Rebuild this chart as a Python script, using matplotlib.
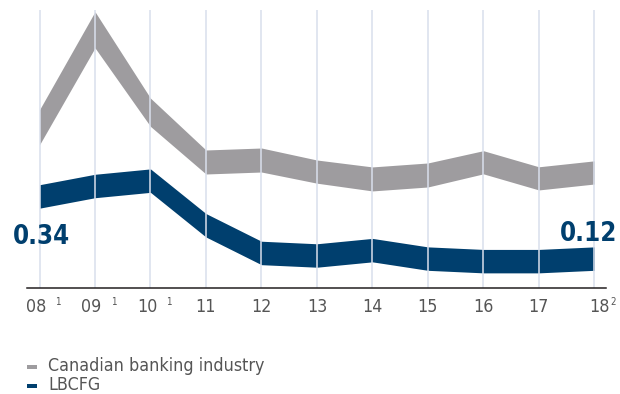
import matplotlib.pyplot as plt
from matplotlib.patches import Rectangle

years = ["08", "09", "10", "11", "12", "13", "14", "15", "16", "17", "18"]
footnotes = ["1", "1", "1", "", "", "", "", "", "", "", "2"]
industry = [0.585, 0.930, 0.638, 0.462, 0.469, 0.428, 0.402, 0.416, 0.461, 0.404, 0.425]
lbcfg = [0.34, 0.377, 0.396, 0.238, 0.140, 0.131, 0.150, 0.120, 0.111, 0.111, 0.12]
series_names = ["Canadian banking industry", "LBCFG"]

# band thickness (in value units) for each series
industry_band = [0.124, 0.128, 0.100, 0.085, 0.085, 0.082, 0.085, 0.085, 0.082, 0.082, 0.082]
lbcfg_band = 0.083

GRAY = "#9e9c9f"
NAVY = "#003f6e"
TEXT = "#555555"

plt.rcParams["font.family"] = ["DejaVu Sans"]
plt.rcParams["font.stretch"] = "condensed"

W, H = 620, 394
fig = plt.figure(figsize=(W / 100, H / 100), dpi=100)
ax = fig.add_axes([26.7 / W, 1 - 287.7 / H, (606 - 26.7) / W, (287.7 - 10) / H])

x = list(range(len(years)))

ax.fill_between(x,
                [v - b / 2 for v, b in zip(industry, industry_band)],
                [v + b / 2 for v, b in zip(industry, industry_band)],
                color=GRAY, lw=0, zorder=2)
ax.fill_between(x,
                [v - lbcfg_band / 2 for v in lbcfg],
                [v + lbcfg_band / 2 for v in lbcfg],
                color=NAVY, lw=0, zorder=2)

for i in x:
    ax.axvline(i, color="#d9dfec", lw=1.1, zorder=3)

ax.set_xlim(-0.231, 10.211)
ax.set_ylim(0.017, 1.0)
ax.set_xticks([])
ax.set_yticks([])
for side in ["left", "right", "top"]:
    ax.spines[side].set_visible(False)
ax.spines["bottom"].set_color("#231f20")
ax.spines["bottom"].set_linewidth(1.1)
ax.spines["bottom"].set_zorder(4)

# year labels with footnote marks
for i, (yr, fn) in enumerate(zip(years, footnotes)):
    shift = 0
    if fn == "1":
        shift = -3.5
    elif fn == "2":
        shift = 5
    ax.annotate(yr, xy=(i, 0), xycoords=("data", "axes fraction"),
                xytext=(shift, -24), textcoords="offset pixels",
                ha="center", va="baseline", fontsize=12.8, color=TEXT)
    if fn:
        ax.annotate(fn, xy=(i, 0), xycoords=("data", "axes fraction"),
                    xytext=(16, -17.5), textcoords="offset pixels",
                    ha="left", va="baseline", fontsize=7, color=TEXT)

# first and last LBCFG values
ax.annotate(f"{lbcfg[0]:.2f}", xy=(0, lbcfg[0]), xytext=(13, H - 243.5),
            textcoords="figure pixels", ha="left", va="baseline",
            fontsize=18.5, fontweight="bold", color=NAVY)
ax.annotate(f"{lbcfg[-1]:.2f}", xy=(10, lbcfg[-1]), xytext=(617, H - 241),
            textcoords="figure pixels", ha="right", va="baseline",
            fontsize=18.5, fontweight="bold", color=NAVY)

# legend
for k, (name, col) in enumerate(zip(series_names, [GRAY, NAVY])):
    y_rect = 364.7 + k * 19.5
    fig.patches.append(Rectangle((26.7 / W, 1 - (y_rect + 4) / H), 10.6 / W, 4 / H,
                                 transform=fig.transFigure, color=col, lw=0))
    fig.text(48.3 / W, 1 - (370.8 + k * 19.2) / H, name, ha="left", va="baseline",
             fontsize=12.8, color=TEXT)

fig.savefig("out.png", dpi=100)
